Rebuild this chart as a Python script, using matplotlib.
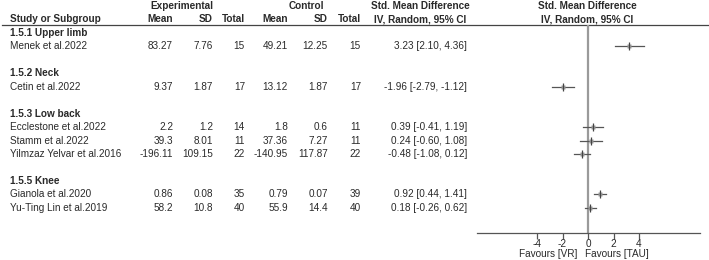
import numpy as np
import matplotlib.pyplot as plt

plt.rcParams["font.family"] = ["Liberation Sans", "DejaVu Sans"]
plt.rcParams["font.size"] = 7.2

# ------------------------------------------------------------
# data
# ------------------------------------------------------------
groups = ["1.5.1 Upper limb", "1.5.2 Neck", "1.5.3 Low back", "1.5.5 Knee"]
group_of = [0, 1, 2, 2, 2, 3, 3]
studies = ["Menek et al.2022", "Cetin et al.2022", "Ecclestone et al.2022",
           "Stamm et al.2022", "Yilmzaz Yelvar et al.2016",
           "Gianola et al.2020", "Yu-Ting Lin et al.2019"]
exp_mean = ["83.27", "9.37", "2.2", "39.3", "-196.11", "0.86", "58.2"]
exp_sd = ["7.76", "1.87", "1.2", "8.01", "109.15", "0.08", "10.8"]
exp_n = [15, 17, 14, 11, 22, 35, 40]
ctl_mean = ["49.21", "13.12", "1.8", "37.36", "-140.95", "0.79", "55.9"]
ctl_sd = ["12.25", "1.87", "0.6", "7.27", "117.87", "0.07", "14.4"]
ctl_n = [15, 17, 11, 11, 22, 39, 40]
smd = [3.23, -1.96, 0.39, 0.24, -0.48, 0.92, 0.18]
ci_lo = [2.10, -2.79, -0.41, -0.60, -1.08, 0.44, -0.26]
ci_hi = [4.36, -1.12, 1.19, 1.08, 0.12, 1.41, 0.62]
ticks = [-4, -2, 0, 2, 4]

# ------------------------------------------------------------
# row layout: group header, studies, blank line between groups
# ------------------------------------------------------------
rows_group = []
rows_study = []
r = 0
for g in range(len(groups)):
    if g > 0:
        r += 1
    rows_group.append(r)
    r += 1
    for i, gi in enumerate(group_of):
        if gi == g:
            rows_study.append(r)
            r += 1

ROW0, ROWH = 33.0, 13.45


def ypx(row):
    return ROW0 + ROWH * row


W, H = 709, 260
fig = plt.figure(figsize=(W / 100, H / 100), dpi=100)
tab = fig.add_axes([0, 0, 1, 1])
tab.set_xlim(0, W)
tab.set_ylim(H, 0)
tab.axis("off")

txt = "#2a2a2a"
hdr = dict(fontweight="bold", color=txt, va="center")

# headers
tab.text(182, 6, "Experimental", ha="center", **hdr)
tab.text(306, 6, "Control", ha="center", **hdr)
tab.text(420, 6, "Std. Mean Difference", ha="center", **hdr)
tab.text(587, 6, "Std. Mean Difference", ha="center", **hdr)
tab.text(10, 19, "Study or Subgroup", ha="left", **hdr)
col_x = [173, 213, 245, 288, 328, 361]
for x, lab in zip(col_x, ["Mean", "SD", "Total", "Mean", "SD", "Total"]):
    tab.text(x, 19, lab, ha="right", **hdr)
tab.text(420, 19, "IV, Random, 95% CI", ha="center", **hdr)
tab.text(587, 19, "IV, Random, 95% CI", ha="center", **hdr)
tab.plot([2, W], [24.5, 24.5], color="#444444", lw=0.9)

# group labels
for g, rr in zip(groups, rows_group):
    tab.text(10, ypx(rr), g, ha="left", **hdr)

# study rows
for i, rr in enumerate(rows_study):
    y = ypx(rr)
    tab.text(10, y, studies[i], ha="left", va="center", color=txt)
    vals = [exp_mean[i], exp_sd[i], exp_n[i], ctl_mean[i], ctl_sd[i], ctl_n[i]]
    for x, v in zip(col_x, vals):
        tab.text(x, y, str(v), ha="right", va="center", color=txt)
    tab.text(467, y, f"{smd[i]:.2f} [{ci_lo[i]:.2f}, {ci_hi[i]:.2f}]",
             ha="right", va="center", color=txt)

# ------------------------------------------------------------
# forest plot
# ------------------------------------------------------------
x0, x1, xz, px_unit = 477, 700, 588, 12.75
y_top, y_axis = 24.5, 232.5
fax = fig.add_axes([x0 / W, 1 - y_axis / H, (x1 - x0) / W, (y_axis - y_top) / H])
fax.set_xlim((x0 - xz) / px_unit, (x1 - xz) / px_unit)
fax.set_ylim((y_axis - ROW0) / ROWH, (y_top - ROW0) / ROWH)
fax.patch.set_alpha(0)
for s in ["top", "right", "left"]:
    fax.spines[s].set_visible(False)
fax.spines["bottom"].set_color("#555555")
fax.spines["bottom"].set_linewidth(0.9)
fax.set_yticks([])
fax.set_xticks(ticks)
fax.set_xticklabels([str(t) for t in ticks])
fax.tick_params(axis="x", length=4, width=0.9, color="#555555", pad=1,
                labelsize=7.2, labelcolor=txt)
fax.axvline(0, color="#9a9a9a", lw=1.6, zorder=1)

for i, rr in enumerate(rows_study):
    fax.plot([ci_lo[i], ci_hi[i]], [rr, rr], color="#555555", lw=0.9, zorder=3)
    fax.plot(smd[i], rr, marker="s", ms=2.5, color="#9a9a9a", mec="none", zorder=3)
    fax.plot(smd[i], rr, marker="|", ms=6, mew=0.9, color="#444444", zorder=4)

tab.text(577, 254, "Favours [VR]", ha="right", va="center", color=txt)
tab.text(585, 254, "Favours [TAU]", ha="left", va="center", color=txt)

fig.savefig("out.png", dpi=100)
